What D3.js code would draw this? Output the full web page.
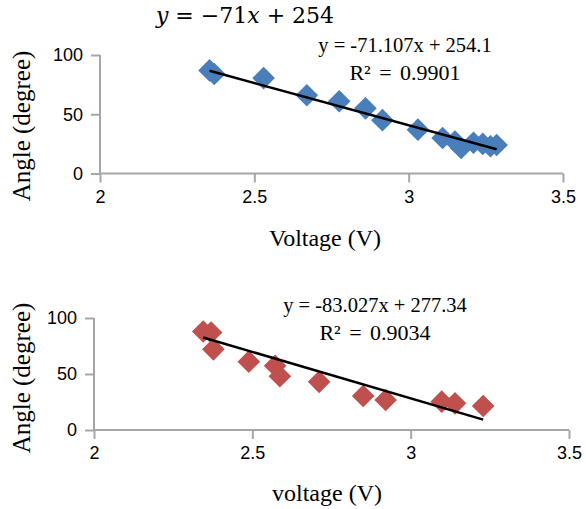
<!DOCTYPE html>
<html>
<head>
<meta charset="utf-8">
<script src="https://cdn.jsdelivr.net/npm/d3@7"></script>
<style>
  body { margin: 0; background: #fff; }
  svg text { fill: #000; }
</style>
</head>
<body>
<div id="chart"></div>
<script>
// top panel (blue)
const voltageTop = [2.355, 2.37, 2.53, 2.67, 2.775, 2.86, 2.915, 3.03, 3.11, 3.15, 3.17, 3.21, 3.24, 3.265, 3.285];
const angleTop   = [87, 84, 80.5, 66, 61, 55, 45, 37, 30, 27, 21.5, 26, 25, 23, 24];
const fitTop = [-71.107, 254.1];

// bottom panel (red)
const voltageBottom = [2.345, 2.37, 2.377, 2.489, 2.572, 2.587, 2.711, 2.85, 2.921, 3.098, 3.14, 3.229];
const angleBottom   = [88, 87, 72, 61, 57.4, 48, 43, 30.4, 26.8, 25.3, 23.8, 21.4];
const fitBottom = [-83.027, 277.34];

const xTicks = [2, 2.5, 3, 3.5];
const yTicks = [0, 50, 100];

const width = 586, height = 509;
const svg = d3.select("#chart").append("svg")
  .attr("width", width)
  .attr("height", height);

const serif = "'Liberation Serif', 'Times New Roman', serif";
const sans = "'Liberation Sans', Arial, sans-serif";

function panel(opts) {
  const x = d3.scaleLinear().domain([2, 3.5]).range([opts.left, opts.right]);
  const y = d3.scaleLinear().domain([0, 100]).range([opts.bottom, opts.top]);
  const g = svg.append("g");

  const xAxis = g.append("g")
    .attr("transform", `translate(0,${opts.bottom})`)
    .call(d3.axisBottom(x).tickValues(xTicks).tickSize(9).tickFormat(d3.format("")));
  const yAxis = g.append("g")
    .attr("transform", `translate(${opts.left},0)`)
    .call(d3.axisLeft(y).tickValues(yTicks).tickSize(9));

  [xAxis, yAxis].forEach(a => {
    a.select(".domain").attr("stroke", "#a6a6a6").attr("stroke-width", 2);
    a.selectAll(".tick line").attr("stroke", "#a6a6a6").attr("stroke-width", 2);
    a.selectAll(".tick text").attr("font-family", sans).attr("font-size", 18).attr("fill", "#000");
  });
  // plain domain lines, no end caps
  xAxis.select(".domain").attr("d", `M${opts.left},0H${opts.right}`);
  yAxis.select(".domain").attr("d", `M0,${opts.bottom}V${opts.top}`);
  xAxis.selectAll(".tick text").attr("y", 13).attr("dy", "0.9em");
  yAxis.selectAll(".tick text").attr("x", -17);

  const pts = opts.vx.map((v, i) => [v, opts.vy[i]]);
  g.selectAll("path.pt")
    .data(pts)
    .enter().append("path")
    .attr("class", "pt")
    .attr("d", d3.symbol(d3.symbolSquare, 256)())
    .attr("transform", d => `translate(${x(d[0])},${y(d[1])}) rotate(45)`)
    .attr("fill", opts.color);

  const xs = d3.extent(opts.vx);
  const [m, b] = opts.fit;
  g.append("line")
    .attr("x1", x(xs[0])).attr("y1", y(m * xs[0] + b))
    .attr("x2", x(xs[1])).attr("y2", y(m * xs[1] + b))
    .attr("stroke", "#000").attr("stroke-width", 2.5);

  g.append("text")
    .attr("x", opts.eqX).attr("y", opts.eqY)
    .attr("text-anchor", "middle")
    .attr("font-family", serif).attr("font-size", 20.5)
    .text(opts.eq);
  g.append("text")
    .attr("x", opts.eqX).attr("y", opts.eqY + 28)
    .attr("text-anchor", "middle")
    .attr("font-family", serif).attr("font-size", 22)
    .attr("word-spacing", 3)
    .text(opts.r2);

  g.append("text")
    .attr("x", opts.xLabelX).attr("y", opts.xLabelY)
    .attr("text-anchor", "middle")
    .attr("font-family", serif).attr("font-size", 24)
    .text(opts.xLabel);
  g.append("text")
    .attr("transform", `translate(30,${opts.yLabelC}) rotate(-90)`)
    .attr("text-anchor", "middle")
    .attr("font-family", serif).attr("font-size", 25)
    .text("Angle (degree)");
}

panel({
  left: 100, right: 563, top: 55, bottom: 173.5,
  vx: voltageTop, vy: angleTop, fit: fitTop, color: "#4a7ebb",
  eq: "y = -71.107x + 254.1", r2: "R² = 0.9901", eqX: 405, eqY: 52,
  xLabel: "Voltage (V)", xLabelX: 325, xLabelY: 246, yLabelC: 126
});

panel({
  left: 94, right: 569, top: 318, bottom: 430,
  vx: voltageBottom, vy: angleBottom, fit: fitBottom, color: "#c0504d",
  eq: "y = -83.027x + 277.34", r2: "R² = 0.9034", eqX: 375, eqY: 312,
  xLabel: "voltage (V)", xLabelX: 327, xLabelY: 501, yLabelC: 378
});

// fitted equation written above the first chart
const title = svg.append("text")
  .attr("x", 245).attr("y", 23)
  .attr("text-anchor", "middle")
  .attr("font-family", "'DejaVu Serif', serif").attr("font-size", 22);
title.append("tspan").attr("font-style", "italic").text("y");
title.append("tspan").text(" = \u221271");
title.append("tspan").attr("font-style", "italic").text("x");
title.append("tspan").text(" + 254");
</script>
</body>
</html>
